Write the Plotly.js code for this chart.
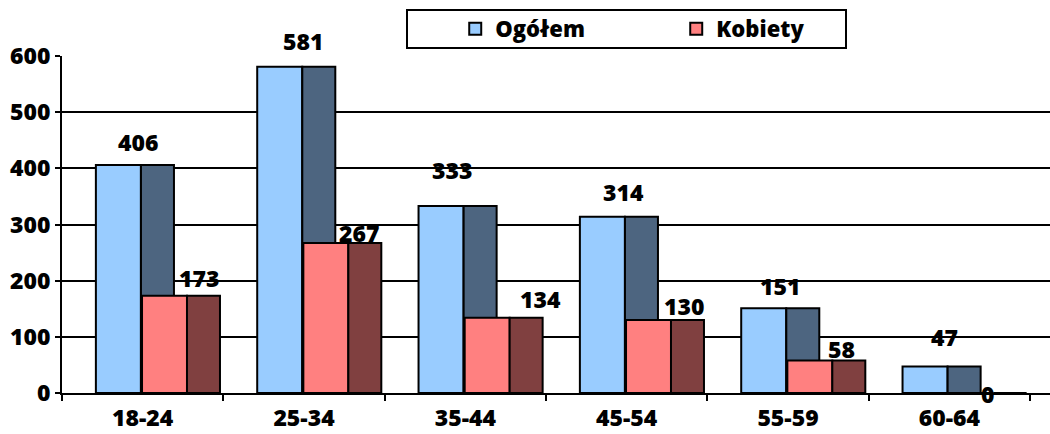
<!DOCTYPE html>
<html>
<head>
<meta charset="utf-8">
<script src="https://cdn.plot.ly/plotly-3.0.1.min.js"></script>
<style>html,body{margin:0;padding:0;background:#fff;}#chart{width:1050px;height:434px;}</style>
</head>
<body>
<div id="chart"></div>
<script>
// ---- data ----
const categories = ["18-24", "25-34", "35-44", "45-54", "55-59", "60-64"];
const ogolem = [406, 581, 333, 314, 151, 47];
const kobiety = [173, 267, 134, 130, 58, 0];
const seriesNames = ["Ogółem", "Kobiety"];
const yTicks = [0, 100, 200, 300, 400, 500, 600];

// ---- label placement (pixel shifts, as in the reference) ----
const ogolemLabelDx = [-5, -1, -13, -3, -8, -5];
const ogolemLabelDy = [23, 26, 36, 25, 22, 30];
const kobietyLabelDx = [56, 55, 75, 57, 53, 38];
const kobietyLabelDy = [18, 10, 19, 14, 11, -1];

const FONT = "'Open Sans', Lato, sans-serif";
const line = {color: "#000", width: 2};
const txt = {family: FONT, size: 23, color: "#000", weight: 800};

function bar(name, y, color, offset, width, showlegend) {
  return {
    type: "bar", x: categories, y: y, name: name,
    offset: offset, width: width,
    marker: {color: color, line: line},
    showlegend: showlegend, hoverinfo: "x+y"
  };
}

const traces = [
  bar(seriesNames[0], ogolem, "#99CCFF", -0.29, 0.279, true),
  bar(seriesNames[0] + " ", ogolem, "#4D6580", -0.0105, 0.2045, false),
  bar(seriesNames[1], kobiety, "#FF8080", -0.004, 0.279, true),
  bar(seriesNames[1] + " ", kobiety, "#804040", 0.2747, 0.2045, false)
];

const annotations = [];
categories.forEach((c, i) => {
  annotations.push({x: c, y: ogolem[i], text: String(ogolem[i]), showarrow: false,
    xshift: ogolemLabelDx[i], yshift: ogolemLabelDy[i], yanchor: "middle", font: txt});
  annotations.push({x: c, y: kobiety[i], text: String(kobiety[i]), showarrow: false,
    xshift: kobietyLabelDx[i], yshift: kobietyLabelDy[i], yanchor: "middle", font: txt});
});

const layout = {
  width: 1050, height: 434,
  margin: {l: 62, r: 0, t: 56, b: 41, pad: 0},
  paper_bgcolor: "#fff", plot_bgcolor: "#fff",
  barmode: "overlay",
  font: txt,
  xaxis: {
    type: "category", range: [-0.5, 5.624],
    showline: true, linecolor: "#000", linewidth: 2,
    ticks: "outside", tickson: "boundaries", ticklen: 6, tickwidth: 2, tickcolor: "#000",
    ticklabelstandoff: 3,
    showgrid: false, zeroline: false,
    tickfont: txt
  },
  yaxis: {
    range: [0, 600], tickvals: yTicks,
    showline: true, linecolor: "#000", linewidth: 2,
    ticks: "outside", ticklen: 5, tickwidth: 2, tickcolor: "#000",
    ticklabelstandoff: 0,
    showgrid: true, gridcolor: "#000", gridwidth: 2,
    zeroline: false,
    tickfont: txt
  },
  legend: {
    orientation: "h", x: 0.398, xanchor: "left", y: 1.08, yanchor: "middle",
    bgcolor: "rgba(0,0,0,0)", borderwidth: 0,
    entrywidth: 176, entrywidthmode: "pixels",
    font: {family: FONT, size: 22, color: "#000", weight: 800},
    traceorder: "normal"
  },
  shapes: [{
    type: "rect", xref: "paper", yref: "paper",
    x0: (407 - 62) / 988, x1: (846 - 62) / 988,
    y0: (393 - 48) / 337, y1: (393 - 10) / 337,
    line: {color: "#000", width: 2}, fillcolor: "rgba(0,0,0,0)", layer: "above"
  }],
  annotations: annotations
};

Plotly.newPlot("chart", traces, layout, {displayModeBar: false, staticPlot: true});
</script>
</body>
</html>
